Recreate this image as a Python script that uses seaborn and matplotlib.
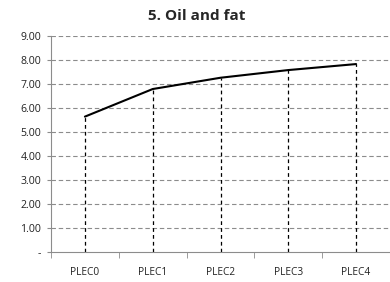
import matplotlib
matplotlib.use("Agg")
import matplotlib.pyplot as plt
import seaborn as sns
import pandas as pd

categories = ["PLEC0", "PLEC1", "PLEC2", "PLEC3", "PLEC4"]
values = [5.64, 6.79, 7.26, 7.58, 7.83]
yticks = [0, 1, 2, 3, 4, 5, 6, 7, 8, 9]
ytick_labels = ["-", "1.00", "2.00", "3.00", "4.00", "5.00", "6.00", "7.00", "8.00", "9.00"]
title = "5. Oil and fat"

sns.set_style("white")
plt.rcParams["font.family"] = ["Open Sans", "DejaVu Sans"]

df = pd.DataFrame({"x": range(len(categories)), "y": values})

fig = plt.figure(figsize=(3.9, 2.82), dpi=100)
ax = fig.add_axes([0.1308, 0.1064, 0.8692, 0.766])

for t in yticks[1:]:
    ax.axhline(t, color="#8c8c8c", lw=0.8, ls=(0, (4, 2.5)), zorder=0)

ax.vlines(df["x"], 0, df["y"], colors="black", lw=0.9, ls=(0, (3, 2.5)), zorder=1)
sns.lineplot(data=df, x="x", y="y", color="black", lw=1.5, ax=ax, zorder=2)

ax.set_xlim(-0.5, 4.5)
ax.set_ylim(0, 9)
ax.set_yticks(yticks)
ax.set_yticklabels(ytick_labels, fontsize=7.6, color="#222222")
ax.set_xticks(range(len(categories)))
ax.set_xticklabels(categories, fontsize=7.3, color="#222222")
ax.tick_params(axis="x", length=0, pad=11)
ax.tick_params(axis="y", length=3, color="#8c8c8c", pad=4, left=True)
ax.set_xticks([i - 0.5 for i in range(len(categories) + 1)], minor=True)
ax.tick_params(axis="x", which="minor", length=4, color="#8c8c8c", bottom=True)
ax.set_xlabel("")
ax.set_ylabel("")
for s in ["top", "right"]:
    ax.spines[s].set_visible(False)
for s in ["left", "bottom"]:
    ax.spines[s].set_color("#8c8c8c")
    ax.spines[s].set_linewidth(0.8)

fig.text(0.505, 0.945, title, ha="center", va="center", fontsize=11, fontweight="bold")

fig.savefig("out.png", dpi=100)
